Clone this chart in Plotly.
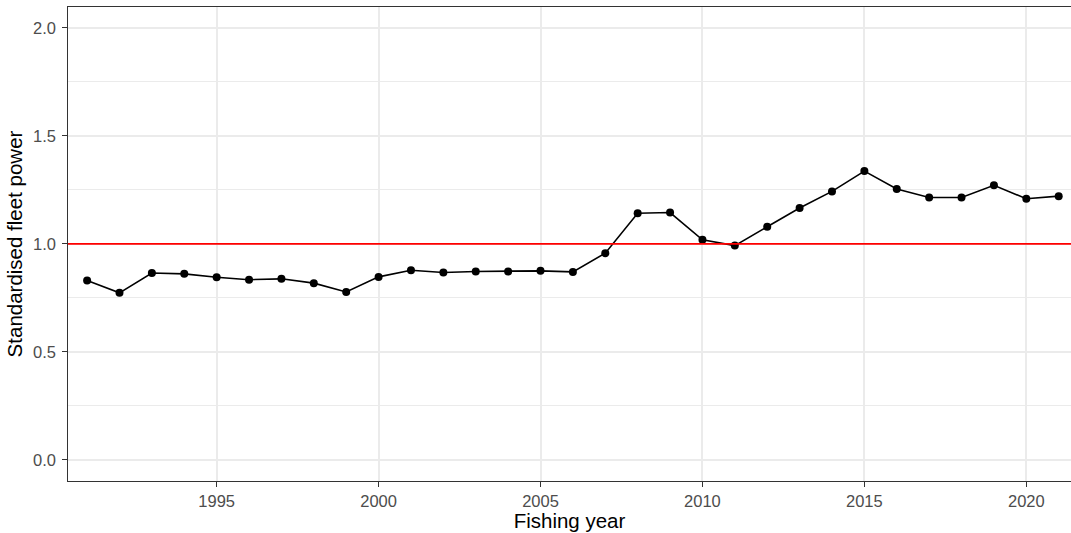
import plotly.graph_objects as go

years = list(range(1991, 2022))
fleet_power = [0.830, 0.773, 0.865, 0.861, 0.845, 0.834, 0.838, 0.818, 0.777, 0.847,
               0.878, 0.867, 0.872, 0.872, 0.875, 0.870, 0.957, 1.142, 1.145, 1.019,
               0.992, 1.079, 1.166, 1.243, 1.337, 1.254, 1.215, 1.215, 1.271, 1.209,
               1.221]
reference_level = 1.0
x_ticks = [1995, 2000, 2005, 2010, 2015, 2020]
y_ticks = [0.0, 0.5, 1.0, 1.5, 2.0]

fig = go.Figure()
fig.add_trace(go.Scatter(
    x=years, y=fleet_power, mode="lines+markers",
    line=dict(color="black", width=1.6),
    marker=dict(color="black", size=8),
    showlegend=False, hoverinfo="x+y"))

fig.add_hline(y=reference_level, line=dict(color="#FF0000", width=1.6), layer="above")

font_family = "Liberation Sans, Arial, sans-serif"
fig.update_layout(
    width=1071, height=533,
    margin=dict(l=68, r=0, t=7, b=52),
    paper_bgcolor="white", plot_bgcolor="white",
    font=dict(family=font_family),
    xaxis=dict(
        range=[1990.41, 2021.38], tickvals=x_ticks,
        showgrid=True, gridcolor="#EBEBEB", gridwidth=1.6,
        zeroline=False, showline=True, mirror=True,
        linecolor="#333333", linewidth=1.4,
        ticks="outside", ticklen=4.5, tickcolor="#333333", tickwidth=1.4,
        tickfont=dict(size=16.5, color="#4D4D4D", family=font_family),
        title=dict(text="Fishing year", font=dict(size=20.5, color="black"), standoff=1),
        automargin=False,
    ),
    yaxis=dict(
        range=[-0.0984, 2.097], tickvals=y_ticks, tickformat=".1f",
        showgrid=True, gridcolor="#EBEBEB", gridwidth=1.6,
        minor=dict(dtick=0.25, tick0=0.25, showgrid=True, gridcolor="#EBEBEB", gridwidth=0.8),
        zeroline=False, showline=True, mirror=False,
        linecolor="#333333", linewidth=1.4,
        ticks="outside", ticklen=4.5, tickcolor="#333333", tickwidth=1.4,
        ticklabelstandoff=3,
        tickfont=dict(size=16.5, color="#4D4D4D", family=font_family),
        title=dict(text="Standardised fleet power", font=dict(size=20.5, color="black"), standoff=4),
        automargin=False,
    ),
)

fig.write_html(
    "out.html",
    config={"displayModeBar": False},
    post_script="document.body.style.margin='0px';document.documentElement.style.overflow='hidden';document.body.style.overflow='hidden';",
)
